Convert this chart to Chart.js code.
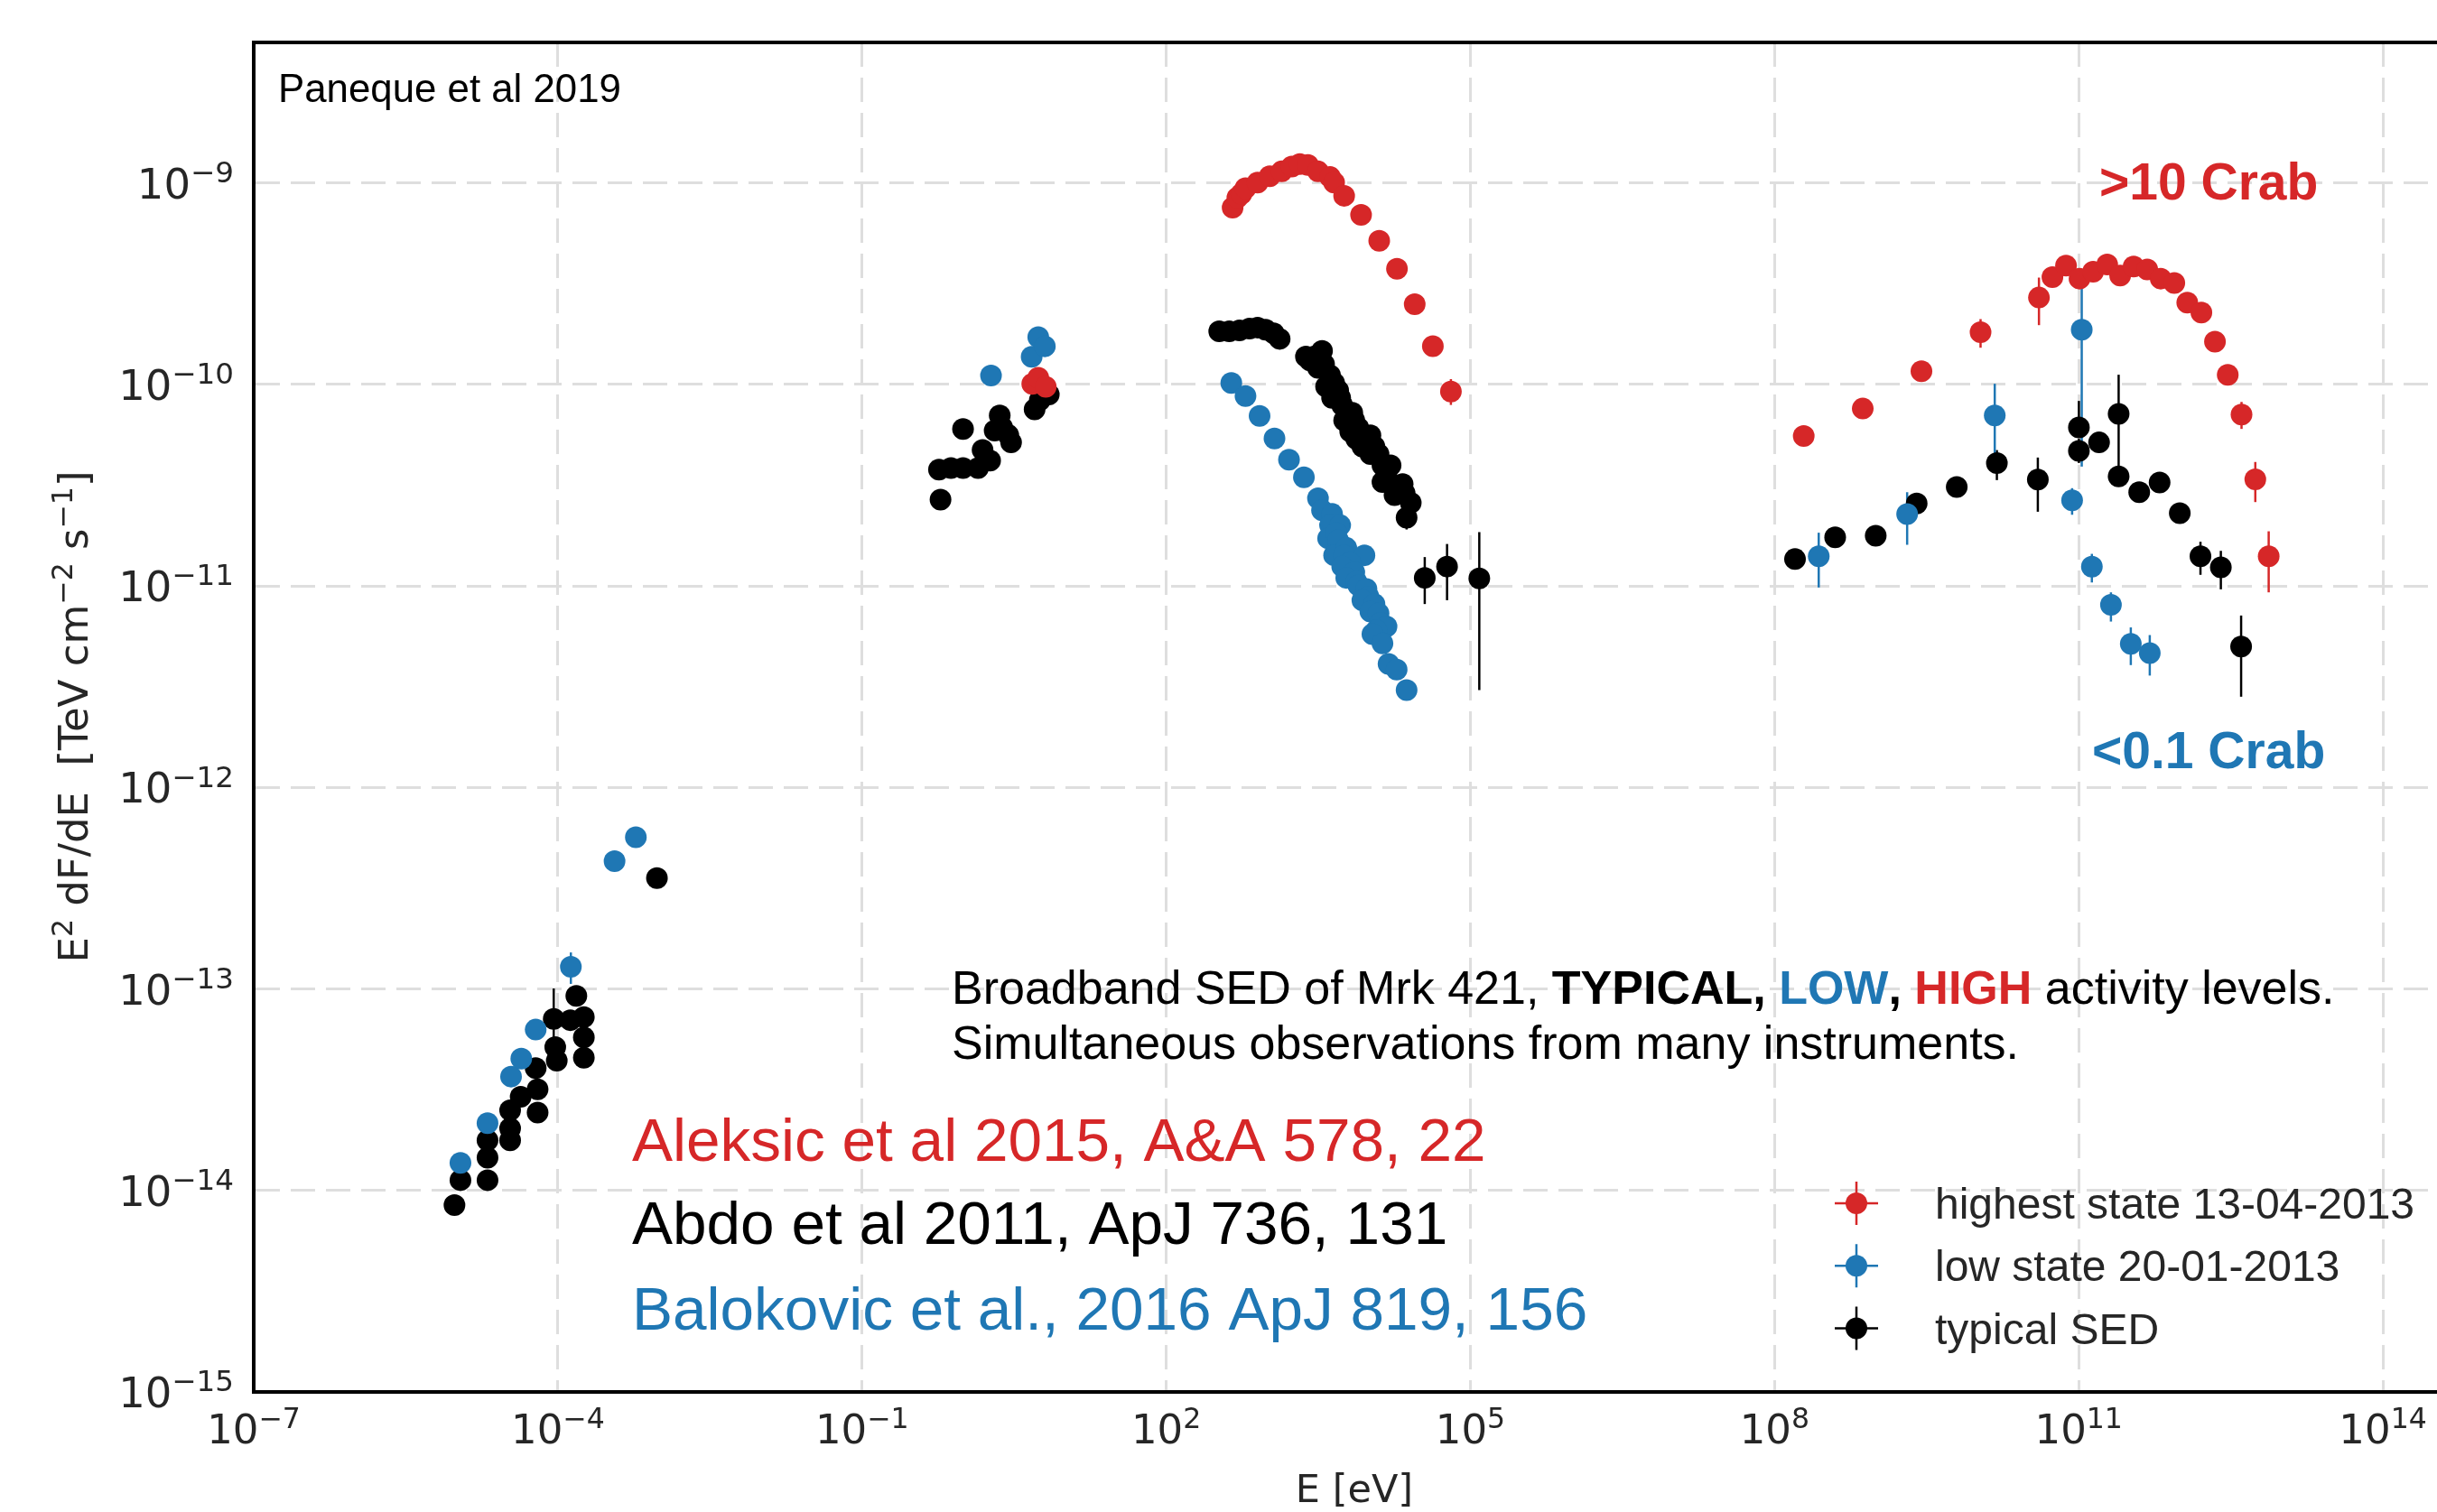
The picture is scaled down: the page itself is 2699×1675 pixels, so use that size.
<!DOCTYPE html>
<html><head><meta charset="utf-8">
<script src="https://cdn.jsdelivr.net/npm/chart.js@4.4.0/dist/chart.umd.min.js"></script>
<style>html,body{margin:0;padding:0;background:#fff;overflow:hidden}canvas{display:block}</style>
</head><body>
<canvas id="c" width="2699" height="1675" style="width:2699px;height:1675px"></canvas>
<script>
// ---- axes (log10 units) ----
const xLogMin = -7, xLogMax = 14.534;
const yLogMin = -15, yLogMax = -8.303;
const xTickExps = [-7, -4, -1, 2, 5, 8, 11, 14];
const yTickExps = [-15, -14, -13, -12, -11, -10, -9];

// ---- highest state 13-04-2013 (log10 E [eV], log10 E2dF/dE [TeV cm-2 s-1]) ----
const highLogE = [0.679, 0.738, 0.812,
  2.655, 2.702, 2.742, 2.782, 2.901, 3.021, 3.139, 3.239, 3.318, 3.398, 3.497, 3.616, 3.656, 3.755, 3.922, 4.101, 4.276, 4.451, 4.630, 4.808,
  8.288, 8.870, 9.449, 10.032, 10.608, 10.741, 10.875, 11.008, 11.142, 11.281, 11.409, 11.542, 11.676, 11.809, 11.943, 12.071, 12.210, 12.344, 12.470, 12.606, 12.742, 12.874];
const highLogF = [-9.997, -9.967, -10.012,
  -9.123, -9.073, -9.054, -9.026, -8.998, -8.967, -8.943, -8.919, -8.907, -8.911, -8.943, -8.971, -8.998, -9.064, -9.159, -9.287, -9.426, -9.602, -9.810, -10.035,
  -10.256, -10.120, -9.935, -9.741, -9.569, -9.468, -9.411, -9.475, -9.441, -9.405, -9.460, -9.415, -9.430, -9.475, -9.497, -9.594, -9.644, -9.788, -9.953, -10.150, -10.471, -10.853];
const highBarLogE = [4.808, 10.032, 10.608, 12.606, 12.742, 12.874];
const highBarLo   = [-10.102, -9.818, -9.706, -10.221, -10.584, -11.032];
const highBarHi   = [-9.974, -9.676, -9.470, -10.087, -10.385, -10.729];

// ---- low state 20-01-2013 ----
const lowLogE = [-4.961, -4.694, -4.462, -4.361, -4.219, -3.872, -3.441, -3.231,
  0.272, 0.673, 0.738, 0.803,
  2.642, 2.782, 2.921, 3.068, 3.211, 3.358, 3.497,
  3.537, 3.636, 3.616, 3.716, 3.597, 3.676, 3.696, 3.656, 3.776, 3.755, 3.955, 3.815, 3.736, 3.855, 3.776, 3.875, 3.895, 3.975, 3.995, 3.935, 4.054, 4.014, 4.094, 4.113, 4.173, 4.074, 4.034, 4.133, 4.193, 4.273, 4.371,
  8.436, 9.308, 10.172, 10.935, 11.030, 11.130, 11.318, 11.514, 11.701];
const lowLogF = [-13.863, -13.666, -13.435, -13.346, -13.202, -12.890, -12.366, -12.247,
  -9.956, -9.863, -9.766, -9.811,
  -9.993, -10.058, -10.156, -10.268, -10.374, -10.461, -10.565,
  -10.625, -10.643, -10.699, -10.699, -10.764, -10.736, -10.774, -10.848, -10.811, -10.848, -10.848, -10.885, -10.904, -10.932, -10.960, -10.978, -10.997, -11.015, -11.053, -11.071, -11.090, -11.127, -11.136, -11.183, -11.201, -11.220, -11.239, -11.285, -11.387, -11.415, -11.517,
  -10.853, -10.644, -10.154, -10.575, -9.729, -10.905, -11.094, -11.288, -11.333];
const lowBarLogE = [-3.872, 8.436, 9.308, 10.172, 10.935, 11.030, 11.130, 11.318, 11.514, 11.701];
const lowBarLo   = [-12.975, -11.008, -10.796, -10.393, -10.647, -10.408, -10.983, -11.177, -11.393, -11.445];
const lowBarHi   = [-12.819, -10.736, -10.535, -9.997, -10.515, -9.440, -10.841, -11.032, -11.206, -11.244];

// ---- typical SED ----
const typLogE = [-5.020, -4.961, -4.694, -4.694, -4.694, -4.471, -4.471, -4.471, -4.367, -4.200, -4.200, -4.219, -4.011, -4.026, -4.041, -3.877, -3.818, -3.744, -3.744, -3.744, -3.023,
  -0.241, -0.226, -0.123, -0.004, -0.004, 0.144, 0.189, 0.263, 0.308, 0.358, 0.382, 0.442, 0.470, 0.702, 0.753, 0.842,
  2.523, 2.622, 2.722, 2.821, 2.901, 2.980, 3.060, 3.119,
  3.378, 3.418, 3.458, 3.537, 3.497, 3.557, 3.616, 3.577, 3.656, 3.696, 3.636, 3.716, 3.736, 3.776, 3.835, 3.755, 3.855, 3.895, 3.815, 3.935, 4.014, 3.875, 3.975, 3.935, 4.054, 4.094, 4.014, 4.133, 4.173, 4.213, 4.173, 4.133, 4.233, 4.332, 4.292, 4.352, 4.252, 4.412, 4.371, 4.550, 4.770, 5.088,
  8.202, 8.598, 8.998, 9.402, 9.797, 10.193, 10.597, 11.002, 11.002, 11.201, 11.394, 11.394, 11.597, 11.798, 11.997, 12.201, 12.402, 12.602];
const typLogF = [-14.073, -13.949, -13.751, -13.838, -13.949, -13.602, -13.692, -13.751, -13.535, -13.498, -13.614, -13.393, -13.356, -13.289, -13.149, -13.155, -13.035, -13.140, -13.241, -13.341, -12.450,
  -10.423, -10.572, -10.415, -10.415, -10.221, -10.415, -10.326, -10.378, -10.229, -10.154, -10.214, -10.251, -10.288, -10.124, -10.079, -10.050,
  -9.736, -9.736, -9.732, -9.723, -9.718, -9.729, -9.747, -9.774,
  -9.862, -9.881, -9.862, -9.834, -9.918, -9.900, -9.955, -10.011, -9.993, -10.030, -10.067, -10.067, -10.104, -10.141, -10.141, -10.179, -10.179, -10.216, -10.234, -10.253, -10.253, -10.271, -10.290, -10.309, -10.309, -10.346, -10.346, -10.402, -10.402, -10.402, -10.439, -10.485, -10.504, -10.495, -10.532, -10.541, -10.550, -10.588, -10.662, -10.960, -10.904, -10.963,
  -10.867, -10.759, -10.751, -10.591, -10.509, -10.390, -10.472, -10.330, -10.214, -10.288, -10.146, -10.457, -10.535, -10.487, -10.639, -10.853, -10.908, -11.301];
const typBarLogE = [-4.041, 4.371, 4.550, 4.770, 5.088, 8.202, 10.193, 10.597, 11.002, 11.002, 11.394, 11.997, 12.201, 12.402, 12.602];
const typBarLo   = [-13.260, -10.720, -11.090, -11.071, -11.517, -10.900, -10.475, -10.632, -10.390, -10.262, -10.467, -10.670, -10.945, -11.017, -11.550];
const typBarHi   = [-12.998, -10.611, -10.857, -10.792, -10.733, -10.830, -10.326, -10.363, -10.270, -10.082, -9.952, -10.610, -10.781, -10.826, -11.147];

const legendLabels = ["highest state 13-04-2013", "low state 20-01-2013", "typical SED"];

// ---- styles ----
const RED = '#d62728', BLUE = '#1f77b4', BLACK = '#000000', TXT = '#262626', GRID = '#dedede';
const SANS = '"Liberation Sans", Arial, Helvetica, sans-serif';
const DJ = '"DejaVu Sans", sans-serif';

const pts = (E, F) => E.map((e, i) => ({ x: 10 ** e, y: 10 ** F[i] }));
const bars = (E, lo, hi) => E.map((e, i) => ({ x: 10 ** e, lo: 10 ** lo[i], hi: 10 ** hi[i] }));
const barSets = [
  { color: BLACK, bars: bars(typBarLogE, typBarLo, typBarHi) },
  { color: BLUE, bars: bars(lowBarLogE, lowBarLo, lowBarHi) },
  { color: RED, bars: bars(highBarLogE, highBarLo, highBarHi) },
];

function drawRich(ctx, segs, x, y, align) {
  let w = 0;
  for (const s of segs) { ctx.font = s[1]; w += ctx.measureText(s[0]).width; }
  let cx = align === 'center' ? x - w / 2 : (align === 'right' ? x - w : x);
  for (const s of segs) {
    ctx.font = s[1]; ctx.fillStyle = s[2];
    ctx.fillText(s[0], cx, y - (s[3] || 0));
    cx += ctx.measureText(s[0]).width;
  }
}
function powSegs(e, size) {
  const exp = (e < 0 ? '\u2212' : '') + Math.abs(e);
  return [["10", `${size}px ${DJ}`, TXT], [exp, `${size * 0.7}px ${DJ}`, TXT, size * 0.38]];
}

const decor = {
  id: 'decor',
  beforeDraw(chart) {
    const ctx = chart.ctx;
    ctx.save(); ctx.fillStyle = '#fff'; ctx.fillRect(0, 0, chart.width, chart.height); ctx.restore();
  },
  beforeDatasetsDraw(chart) {
    const { ctx, chartArea: a, scales: { x, y } } = chart;
    ctx.save();
    ctx.beginPath(); ctx.rect(a.left, a.top, a.right - a.left, a.bottom - a.top); ctx.clip();
    ctx.lineWidth = 2.5;
    for (const set of barSets) {
      ctx.strokeStyle = set.color;
      for (const b of set.bars) {
        const px = x.getPixelForValue(b.x);
        ctx.beginPath();
        ctx.moveTo(px, y.getPixelForValue(b.lo));
        ctx.lineTo(px, y.getPixelForValue(b.hi));
        ctx.stroke();
      }
    }
    ctx.restore();
  },
  afterDraw(chart) {
    const { ctx, chartArea: a, scales: { x, y } } = chart;
    ctx.save();
    // top frame line
    ctx.strokeStyle = '#000'; ctx.lineWidth = 4;
    ctx.beginPath(); ctx.moveTo(a.left - 2, a.top); ctx.lineTo(chart.width, a.top); ctx.stroke();
    ctx.textAlign = 'left'; ctx.textBaseline = 'alphabetic';
    // tick labels
    for (const e of yTickExps) {
      const py = y.getPixelForValue(10 ** e);
      drawRich(ctx, powSegs(e, 46.5), 259, py + 17, 'right');
    }
    for (const e of xTickExps) {
      const px = x.getPixelForValue(10 ** e);
      drawRich(ctx, powSegs(e, 45), px, 1599, 'center');
    }
    // axis titles
    drawRich(ctx, [["E [eV]", `43px ${DJ}`, TXT]], 1500, 1664, 'center');
    ctx.save();
    ctx.translate(97, 794);
    ctx.rotate(-Math.PI / 2);
    drawRich(ctx, [["E", `45px ${DJ}`, TXT], ["2", `31.5px ${DJ}`, TXT, 17], [" dF/dE  [TeV cm", `45px ${DJ}`, TXT],
      ["\u22122", `31.5px ${DJ}`, TXT, 17], [" s", `45px ${DJ}`, TXT], ["\u22121", `31.5px ${DJ}`, TXT, 17], ["]", `45px ${DJ}`, TXT]], 0, 0, 'center');
    ctx.restore();
    // annotations
    drawRich(ctx, [["Paneque et al 2019", `43.8px ${SANS}`, '#000']], 308, 113, 'left');
    drawRich(ctx, [[">10 Crab", `bold 57px ${SANS}`, RED]], 2325, 221, 'left');
    drawRich(ctx, [["<0.1 Crab", `bold 57px ${SANS}`, BLUE]], 2317, 851, 'left');
    const N = `52px ${SANS}`, B = `bold 52px ${SANS}`;
    drawRich(ctx, [["Broadband SED of Mrk 421, ", N, '#000'], ["TYPICAL, ", B, '#000'], ["LOW", B, BLUE], [", ", B, '#000'],
      ["HIGH", B, RED], [" activity levels.", N, '#000']], 1054, 1112, 'left');
    drawRich(ctx, [["Simultaneous observations from many instruments.", N, '#000']], 1054, 1173, 'left');
    const R = `67.5px ${SANS}`;
    drawRich(ctx, [["Aleksic et al 2015, A&A 578, 22", R, RED]], 700, 1286, 'left');
    drawRich(ctx, [["Abdo et al 2011, ApJ 736, 131", R, '#000']], 700, 1378, 'left');
    drawRich(ctx, [["Balokovic et al., 2016 ApJ 819, 156", R, BLUE]], 700, 1473, 'left');
    // legend
    const lc = [RED, BLUE, BLACK];
    for (let i = 0; i < 3; i++) {
      const my = 1333 + i * 69.3, mx = 2056;
      ctx.strokeStyle = lc[i]; ctx.fillStyle = lc[i]; ctx.lineWidth = 2.5;
      ctx.beginPath(); ctx.moveTo(mx - 24, my); ctx.lineTo(mx + 24, my); ctx.moveTo(mx, my - 24); ctx.lineTo(mx, my + 24); ctx.stroke();
      ctx.beginPath(); ctx.arc(mx, my, 12, 0, Math.PI * 2); ctx.fill();
      drawRich(ctx, [[legendLabels[i], `48px ${SANS}`, TXT]], 2143, my + 17, 'left');
    }
    ctx.restore();
  }
};

const axisCommon = {
  type: 'logarithmic',
  ticks: { display: false },
  grid: { color: GRID, lineWidth: 3, drawTicks: false },
  border: { display: true, color: '#000', width: 4, dash: [27, 12] },
  title: { display: false }
};

new Chart(document.getElementById('c'), {
  type: 'scatter',
  data: {
    datasets: [
      { label: legendLabels[0], data: pts(highLogE, highLogF), backgroundColor: RED },
      { label: legendLabels[1], data: pts(lowLogE, lowLogF), backgroundColor: BLUE },
      { label: legendLabels[2], data: pts(typLogE, typLogF), backgroundColor: BLACK },
    ]
  },
  options: {
    responsive: false, animation: false, devicePixelRatio: 1,
    layout: { autoPadding: false, padding: { left: 281, top: 47, right: 0, bottom: 133 } },
    plugins: { legend: { display: false }, tooltip: { enabled: false } },
    elements: { point: { radius: 12, hoverRadius: 12, borderWidth: 0 } },
    scales: {
      x: Object.assign({}, axisCommon, {
        min: 10 ** xLogMin, max: 10 ** xLogMax,
        afterBuildTicks: s => { s.ticks = xTickExps.map(e => ({ value: 10 ** e })); }
      }),
      y: Object.assign({}, axisCommon, {
        min: 10 ** yLogMin, max: 10 ** yLogMax,
        afterBuildTicks: s => { s.ticks = yTickExps.map(e => ({ value: 10 ** e })); }
      })
    }
  },
  plugins: [decor]
});
</script>
</body></html>
